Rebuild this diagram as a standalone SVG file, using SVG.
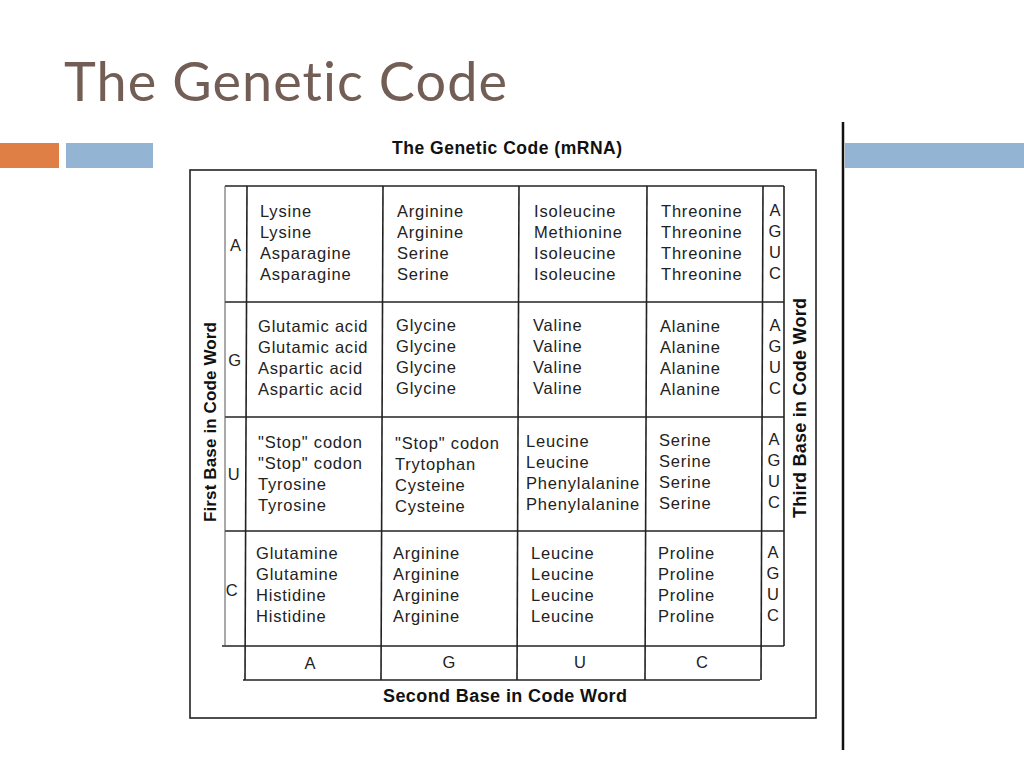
<svg xmlns="http://www.w3.org/2000/svg" width="1024" height="768" viewBox="0 0 1024 768">
<style>
.t{font-family:"Liberation Sans",Arial,sans-serif;font-size:16.5px;letter-spacing:0.8px;fill:#222}
.b{font-family:"Liberation Sans",Arial,sans-serif;font-size:18px;font-weight:bold;fill:#111}
.ln{stroke:#222;stroke-width:1.6;fill:none}
.fl{stroke:#555;stroke-width:1;fill:none}
</style>
<rect width="1024" height="768" fill="#fff"/>
<g id="title">
<text x="64" y="101" textLength="443" lengthAdjust="spacing" style="font-family:Lato,'Open Sans',sans-serif;font-size:54px;font-variant-ligatures:none;fill:#735E55">The Genetic Code</text>
</g>
<g id="bars">
<rect x="0" y="143" width="59" height="25" fill="#DF7F45"/>
<rect x="66" y="143" width="87" height="25" fill="#93B5D3"/>
<rect x="845" y="143" width="179" height="25" fill="#93B5D3"/>
<line x1="843" y1="122" x2="843" y2="750" stroke="#111" stroke-width="2.5"/>
</g>
<g id="frame">
<text x="392" y="154" class="b" style="font-size:17.5px" textLength="230" lengthAdjust="spacing">The Genetic Code (mRNA)</text>
<rect x="190" y="170" width="626" height="548" class="ln"/>
</g>
<g id="grid">
<line x1="225" y1="186" x2="784" y2="186" class="ln"/>
<line x1="225" y1="302" x2="784" y2="302" class="ln"/>
<line x1="225" y1="417" x2="784" y2="417" class="ln"/>
<line x1="225" y1="531" x2="784" y2="531" class="ln"/>
<line x1="222" y1="646" x2="784" y2="646" class="ln"/>
<line x1="243" y1="680" x2="760" y2="680" class="ln"/>
<line x1="225" y1="186" x2="225" y2="646" class="fl"/>
<line x1="247" y1="186" x2="245" y2="680" class="ln"/>
<line x1="383" y1="186" x2="381" y2="680" class="ln"/>
<line x1="519" y1="186" x2="517" y2="680" class="ln"/>
<line x1="647" y1="186" x2="645" y2="680" class="ln"/>
<line x1="763" y1="186" x2="761" y2="680" class="ln"/>
<line x1="784" y1="186" x2="784" y2="646" class="ln"/>
</g>
<g id="axis-first">
<text class="b" style="font-size:17px" transform="translate(216,322) rotate(-90)" x="-200" y="0" textLength="200" lengthAdjust="spacing">First Base in Code Word</text>
<text x="236" y="251" class="t" text-anchor="middle">A</text>
<text x="235" y="366" class="t" text-anchor="middle">G</text>
<text x="234" y="480" class="t" text-anchor="middle">U</text>
<text x="232" y="596" class="t" text-anchor="middle">C</text>
</g>
<g id="axis-third">
<text class="b" transform="translate(806,518) rotate(-90)" x="0" y="0" textLength="220" lengthAdjust="spacing">Third Base in Code Word</text>
<g class="t" text-anchor="middle" style="letter-spacing:0">
<text x="775" y="216">A</text><text x="775" y="237">G</text><text x="775" y="258">U</text><text x="775" y="279">C</text>
<text x="775" y="331">A</text><text x="775" y="352">G</text><text x="775" y="373">U</text><text x="775" y="394">C</text>
<text x="774" y="445">A</text><text x="774" y="466">G</text><text x="774" y="487">U</text><text x="774" y="508">C</text>
<text x="773" y="558">A</text><text x="773" y="579">G</text><text x="773" y="600">U</text><text x="773" y="621">C</text>
</g>
</g>
<g id="axis-second">
<g class="t" text-anchor="middle" style="letter-spacing:0">
<text x="310" y="669">A</text><text x="449" y="668">G</text><text x="580" y="668">U</text><text x="702" y="668">C</text>
</g>
<text x="383" y="702" class="b" textLength="244" lengthAdjust="spacing">Second Base in Code Word</text>
</g>
<g id="row-A" class="t">
<text x="260" y="217">Lysine</text><text x="260" y="238">Lysine</text><text x="260" y="259">Asparagine</text><text x="260" y="280">Asparagine</text>
<text x="397" y="217">Arginine</text><text x="397" y="238">Arginine</text><text x="397" y="259">Serine</text><text x="397" y="280">Serine</text>
<text x="534" y="217">Isoleucine</text><text x="534" y="238">Methionine</text><text x="534" y="259">Isoleucine</text><text x="534" y="280">Isoleucine</text>
<text x="661" y="217">Threonine</text><text x="661" y="238">Threonine</text><text x="661" y="259">Threonine</text><text x="661" y="280">Threonine</text>
</g>
<g id="row-G" class="t">
<text x="258" y="332">Glutamic acid</text><text x="258" y="353">Glutamic acid</text><text x="258" y="374">Aspartic acid</text><text x="258" y="395">Aspartic acid</text>
<text x="396" y="331">Glycine</text><text x="396" y="352">Glycine</text><text x="396" y="373">Glycine</text><text x="396" y="394">Glycine</text>
<text x="533" y="331">Valine</text><text x="533" y="352">Valine</text><text x="533" y="373">Valine</text><text x="533" y="394">Valine</text>
<text x="660" y="332">Alanine</text><text x="660" y="353">Alanine</text><text x="660" y="374">Alanine</text><text x="660" y="395">Alanine</text>
</g>
<g id="row-U" class="t">
<text x="258" y="448">"Stop" codon</text><text x="258" y="469">"Stop" codon</text><text x="258" y="490">Tyrosine</text><text x="258" y="511">Tyrosine</text>
<text x="395" y="449">"Stop" codon</text><text x="395" y="470">Trytophan</text><text x="395" y="491">Cysteine</text><text x="395" y="512">Cysteine</text>
<text x="526" y="447">Leucine</text><text x="526" y="468">Leucine</text><text x="526" y="489">Phenylalanine</text><text x="526" y="510">Phenylalanine</text>
<text x="659" y="446">Serine</text><text x="659" y="467">Serine</text><text x="659" y="488">Serine</text><text x="659" y="509">Serine</text>
</g>
<g id="row-C" class="t">
<text x="256" y="559">Glutamine</text><text x="256" y="580">Glutamine</text><text x="256" y="601">Histidine</text><text x="256" y="622">Histidine</text>
<text x="393" y="559">Arginine</text><text x="393" y="580">Arginine</text><text x="393" y="601">Arginine</text><text x="393" y="622">Arginine</text>
<text x="531" y="559">Leucine</text><text x="531" y="580">Leucine</text><text x="531" y="601">Leucine</text><text x="531" y="622">Leucine</text>
<text x="658" y="559">Proline</text><text x="658" y="580">Proline</text><text x="658" y="601">Proline</text><text x="658" y="622">Proline</text>
</g>
</svg>
